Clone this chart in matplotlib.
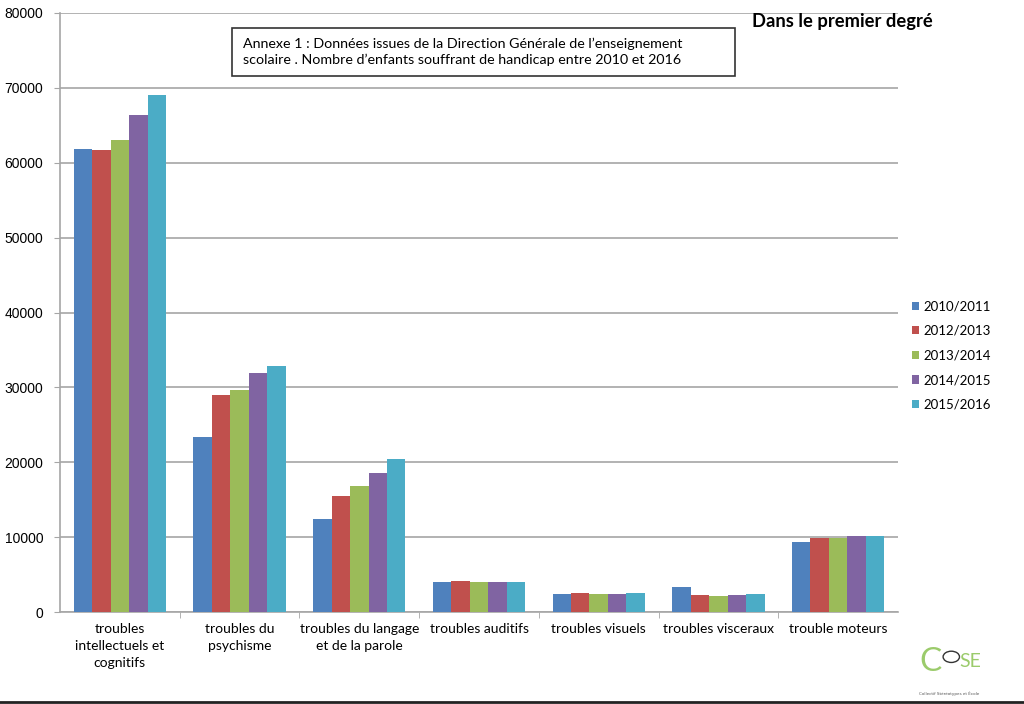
import matplotlib.pyplot as plt
import numpy as np
from matplotlib.patches import Circle, Rectangle

categories = ["troubles\nintellectuels et\ncognitifs", "troubles du\npsychisme",
              "troubles du langage\net de la parole", "troubles auditifs",
              "troubles visuels", "troubles visceraux", "trouble moteurs"]
years = ["2010/2011", "2012/2013", "2013/2014", "2014/2015", "2015/2016"]

v2010 = [61900, 23400, 12400, 4000, 2450, 3400, 9400]
v2012 = [61700, 29000, 15500, 4100, 2500, 2300, 9900]
v2013 = [63000, 29600, 16800, 4000, 2350, 2200, 9900]
v2014 = [66400, 31900, 18600, 4000, 2400, 2250, 10100]
v2015 = [69000, 32900, 20400, 4000, 2500, 2350, 10200]
series = [v2010, v2012, v2013, v2014, v2015]
colors = ["#4F81BD", "#C0504D", "#9BBB59", "#8064A2", "#4BACC6"]

W, H = 1024, 704
fig = plt.figure(figsize=(10.24, 7.04), dpi=100)
ax = fig.add_axes([60/W, 92/H, 838/W, 599/H])

x = np.arange(len(categories))
w = 0.154
for i, (vals, c) in enumerate(zip(series, colors)):
    ax.bar(x + (i - 2) * w, vals, w, color=c, label=years[i], zorder=3)

ax.set_xlim(-0.5, len(categories) - 0.5)
ax.set_ylim(0, 80000)
ax.set_yticks(range(0, 80001, 10000))
ax.set_yticklabels([str(v) for v in range(0, 80001, 10000)],
                   fontsize=10, family="Liberation Sans")
ax.yaxis.grid(True, color="#a6a6a6", linewidth=1.2, zorder=0)
ax.tick_params(axis="y", length=4, color="#a6a6a6", pad=8)

ax.set_xticks(x)
ax.set_xticklabels(categories, fontsize=10, family="Lato", linespacing=1.5)
ax.tick_params(axis="x", length=0, pad=8)
ax.set_xticks(np.arange(0.5, len(categories) - 0.5, 1.0), minor=True)
ax.tick_params(axis="x", which="minor", length=4, color="#a6a6a6")

for s in ["top", "right"]:
    ax.spines[s].set_visible(False)
ax.spines["left"].set_color("#a6a6a6")
ax.spines["bottom"].set_color("#a6a6a6")
ax.spines["left"].set_linewidth(1.2)
ax.spines["bottom"].set_linewidth(1.2)

leg = ax.legend(loc="upper left", bbox_to_anchor=(1.002, 0.54), frameon=False,
                handlelength=0.6, handleheight=0.6, handletextpad=0.3,
                labelspacing=0.95, prop={"family": "Lato", "size": 9.5})

# annotation box
fig.patches.append(Rectangle((232/W, 1 - 76/H), 503/W, 48/H, transform=fig.transFigure,
                             facecolor="white", edgecolor="#333333", linewidth=1.2))
fig.text(243/W, 1 - 52/H, "Annexe 1 : Données issues de la Direction Générale de l\u2019enseignement\n"
         "scolaire . Nombre d\u2019enfants souffrant de handicap entre 2010 et 2016",
         fontsize=10.25, family="Lato", va="center", ha="left", linespacing=1.4)

fig.text(752/W, 1 - 22/H, "Dans le premier degré", fontsize=13.2, fontweight="bold",
         family="Lato", va="center", ha="left")

# logo
fig.text(0.898, 0.06, "C", fontsize=24, color="#9BCB6B", family="Lato", va="center")
fig.text(0.937, 0.06, "SE", fontsize=14, color="#9BCB6B", family="Lato", va="center")
fig.patches.append(Circle((0.929, 0.067), 0.008, transform=fig.transFigure,
                          fill=False, edgecolor="#333333", linewidth=1))
fig.text(0.927, 0.015, "Collectif Stéréotypes et École", fontsize=3, color="#555555",
         ha="center", va="center")
fig.lines.append(plt.Line2D([0, 1], [0.003, 0.003], transform=fig.transFigure,
                            color="#222222", linewidth=2))

fig.savefig("out.png", dpi=100)
